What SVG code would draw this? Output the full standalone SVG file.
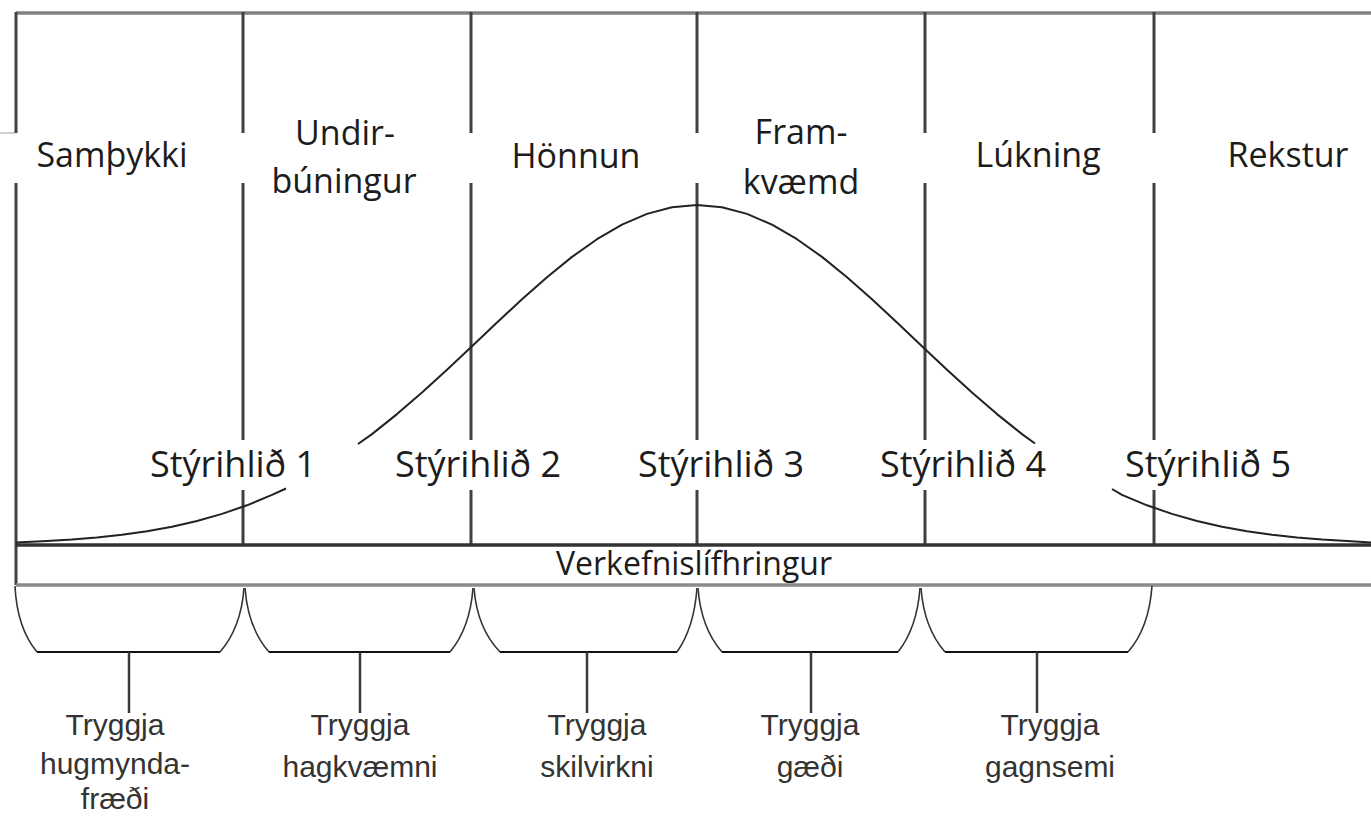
<svg xmlns="http://www.w3.org/2000/svg" width="1371" height="818" viewBox="0 0 1371 818">
<style>
.grid{stroke:#404040;stroke-width:3;fill:none}
.top{stroke:#808080;stroke-width:3.5;fill:none}
.base{stroke:#333;stroke-width:3.5;fill:none}
.bot{stroke:#8a8a8a;stroke-width:3.5;fill:none}
.curve{stroke:#222;stroke-width:2;fill:none;stroke-linejoin:round}
.br{stroke:#111;stroke-width:2;fill:none}
.brc{stroke:#333;stroke-width:1.6;fill:none}
.stem{stroke:#3a3a3a;stroke-width:2.5}
.ph{font-family:"Open Sans","Noto Sans",sans-serif;font-size:34px;fill:#1c1c1c;text-anchor:middle}
.gate{font-family:"Open Sans","Noto Sans",sans-serif;font-size:36px;fill:#1c1c1c;text-anchor:middle}
.life{font-family:"Open Sans","Noto Sans",sans-serif;font-size:32px;fill:#1c1c1c;text-anchor:middle}
.goal{font-family:"Liberation Sans",Arial,sans-serif;font-size:30px;fill:#333;text-anchor:middle}
</style>
<g id="frame">
<line class="top" x1="16" y1="13" x2="1371" y2="13"/>
<line x1="0" y1="133" x2="15" y2="133" stroke="#d0d0d0" stroke-width="2"/>
<path class="grid" d="M16,12 V133 M16,183 V585"/>
<path class="grid" d="M243,12 V133 M243,183 V440 M243,490 V545"/>
<path class="grid" d="M471,12 V133 M471,183 V440 M471,490 V545"/>
<path class="grid" d="M697,12 V133 M697,183 V440 M697,490 V545"/>
<path class="grid" d="M925,12 V133 M925,183 V440 M925,490 V545"/>
<path class="grid" d="M1154,12 V133 M1154,183 V440 M1154,490 V545"/>
</g>
<g id="lifecycle">
<line class="base" x1="16" y1="545" x2="1371" y2="545"/>
<line class="bot" x1="16" y1="585" x2="1371" y2="585"/>
<text class="life" x="694" y="575">Verkefnislífhringur</text>
</g>
<g id="curve">
<path class="curve" d="M16,542.5 L47,541.1 L72,539.6 L97,537.5 L122,534.8 L147,531.2 L172,526.7 L197,521 L222,513.9 L247,505.3 L272,494.9 L286,488.5"/>
<path class="curve" d="M358,444 L372,434.1 L397,414.1 L422,392.5 L447,369.8 L472,346.2 L497,322.5 L522,299.3 L547,277.2 L572,256.9 L597,239.2 L622,224.7 L647,213.9 L672,207.2 L697,205 L722,207.2 L747,213.9 L772,224.7 L797,239.2 L822,256.9 L847,277.2 L872,299.3 L897,322.5 L922,346.2 L947,369.8 L972,392.5 L997,414.1 L1022,434.1 L1035,443.5"/>
<path class="curve" d="M1112,489 L1122,494.9 L1147,505.3 L1172,513.9 L1197,521 L1222,526.7 L1247,531.2 L1272,534.8 L1297,537.5 L1322,539.6 L1347,541.1 L1371,542.4"/>
</g>
<g id="phase-sampykki"><text class="ph" x="112" y="167">Samþykki</text></g>
<g id="phase-undirbuningur"><text class="ph" x="345" y="145">Undir-</text><text class="ph" x="344" y="193">búningur</text></g>
<g id="phase-honnun"><text class="ph" x="576" y="168">Hönnun</text></g>
<g id="phase-framkvaemd"><text class="ph" x="801" y="144">Fram-</text><text class="ph" x="801" y="194">kvæmd</text></g>
<g id="phase-lukning"><text class="ph" x="1038" y="167">Lúkning</text></g>
<g id="phase-rekstur"><text class="ph" x="1288" y="167">Rekstur</text></g>
<g id="gate1"><text class="gate" x="233" y="477">Stýrihlið 1</text></g>
<g id="gate2"><text class="gate" x="478" y="477">Stýrihlið 2</text></g>
<g id="gate3"><text class="gate" x="721" y="477">Stýrihlið 3</text></g>
<g id="gate4"><text class="gate" x="963" y="477">Stýrihlið 4</text></g>
<g id="gate5"><text class="gate" x="1208" y="477">Stýrihlið 5</text></g>
<g id="connectors">
<path class="brc" d="M15,586 Q17,628 37,652 M220,652 Q241,628 244,588"/>
<path class="br" d="M37,652 H220"/>
<path class="brc" d="M245,588 Q248,628 269,652 M450,652 Q470,628 473,588"/>
<path class="br" d="M269,652 H450"/>
<path class="brc" d="M474,588 Q477,628 500,652 M677,652 Q694,628 697,588"/>
<path class="br" d="M500,652 H677"/>
<path class="brc" d="M698,588 Q701,628 722,652 M898,652 Q917,628 920,588"/>
<path class="br" d="M722,652 H898"/>
<path class="brc" d="M921,588 Q924,628 945,652 M1128,652 Q1149,628 1152,586"/>
<path class="br" d="M945,652 H1128"/>
<line class="stem" x1="129" y1="652" x2="129" y2="713"/>
<line class="stem" x1="360" y1="652" x2="360" y2="713"/>
<line class="stem" x1="587" y1="652" x2="587" y2="713"/>
<line class="stem" x1="811" y1="652" x2="811" y2="713"/>
<line class="stem" x1="1037" y1="652" x2="1037" y2="713"/>
</g>
<g id="goal1"><text class="goal" x="115" y="735">Tryggja</text><text class="goal" x="115" y="774">hugmynda-</text><text class="goal" x="115" y="809">fræði</text></g>
<g id="goal2"><text class="goal" x="360" y="735">Tryggja</text><text class="goal" x="360" y="777">hagkvæmni</text></g>
<g id="goal3"><text class="goal" x="597" y="735">Tryggja</text><text class="goal" x="597" y="777">skilvirkni</text></g>
<g id="goal4"><text class="goal" x="810" y="735">Tryggja</text><text class="goal" x="810" y="777">gæði</text></g>
<g id="goal5"><text class="goal" x="1050" y="735">Tryggja</text><text class="goal" x="1050" y="777">gagnsemi</text></g>
</svg>
